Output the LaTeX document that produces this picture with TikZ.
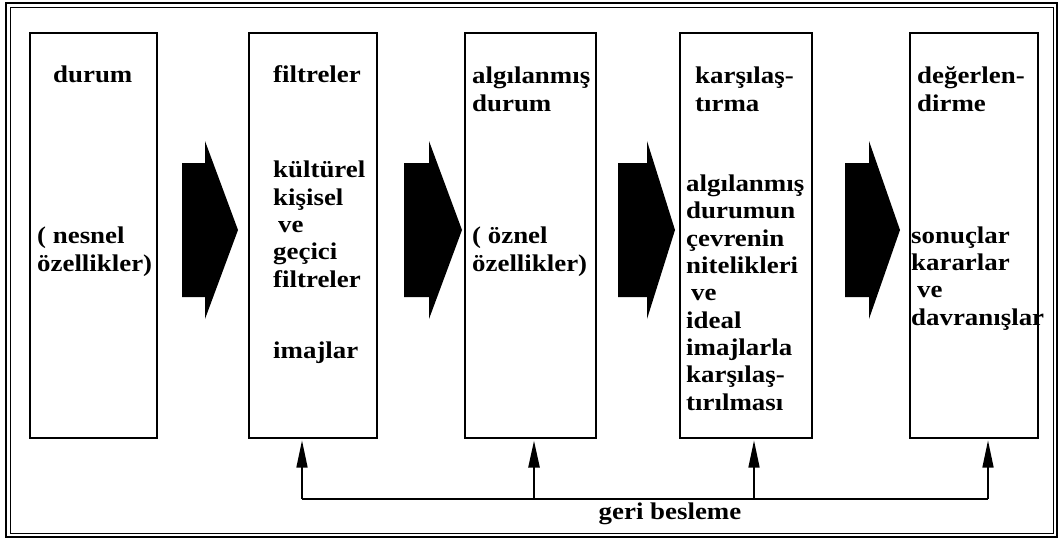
\documentclass[tikz,border=0pt]{standalone}
\usepackage{fontspec}
\newfontfamily\diafont{Liberation Serif}[FakeStretch=1.12]
\usetikzlibrary{arrows.meta}

\tikzset{
  stage/.style={draw, line width=1.5pt, inner sep=0pt, minimum height=405pt, anchor=north west},
  txt/.style={anchor=base west, inner sep=0pt, align=left, font=\diafont\bfseries\fontsize{24}{27.3}\selectfont},
  fb/.style={line width=1.4pt, -{Triangle[length=27pt,width=11pt]}, shorten >=2pt}
}

\begin{document}
\begin{tikzpicture}[x=1pt, y=-1pt]
    \useasboundingbox (0,0) rectangle (1062,541);

    % cerceve
    \draw[line width=1.6pt] (6,3) rectangle (1057,537);
    \draw[line width=0.8pt] (10,7) rectangle (1053,533);

    % kutular
    \node[stage, minimum width=127pt] (durum) at (29,32) {};
    \node[stage, minimum width=128pt] (filtre) at (248,32) {};
    \node[stage, minimum width=131pt] (algi) at (464,32) {};
    \node[stage, minimum width=132pt] (karsi) at (679,32) {};
    \node[stage, minimum width=128pt] (deger) at (909,32) {};

    % basliklar (base = son satir)
    \node[txt] (t1) at (53,82) {durum};
    \node[txt] (t2) at (273,82) {filtreler};
    \node[txt] (t3) at (472,111) {algılanmış\\durum};
    \node[txt] (t4) at (695,111) {karşılaş-\\tırma};
    \node[txt] (t5) at (917,111) {değerlen-\\dirme};

    % icerik
    \node[txt] (b1) at (37,271) {( nesnel\\özellikler)};
    \node[txt] (b2) at (273,287) {kültürel\\kişisel\\\hspace{5pt}ve\\geçici\\filtreler};
    \node[txt] (b2b) at (273,358) {imajlar};
    \node[txt] (b3) at (472,271) {( öznel\\özellikler)};
    \node[txt] (b4) at (686,410) {algılanmış\\durumun\\çevrenin\\nitelikleri\\\hspace{5pt}ve\\ideal\\imajlarla\\karşılaş-\\tırılması};
    \node[txt] (b5) at (911,325) {sonuçlar\\kararlar\\\hspace{6pt}ve\\davranışlar};

    % blok oklar
    \foreach \l/\h/\t in {182/205/238, 404/429/462, 618/647/675, 845/869/900}
        \fill (\l,163) -- (\h,163) -- (\h,141) -- (\t,230) -- (\h,319) -- (\h,297) -- (\l,297) -- cycle;

    % geri besleme
    \coordinate (fb1) at (302,499);
    \coordinate (fb2) at (534,499);
    \coordinate (fb3) at (754,499);
    \coordinate (fb4) at (988,499);
    \draw[line width=1.4pt] (fb1) -- (fb4);
    \draw[fb] (fb1) -- (fb1 |- filtre.south);
    \draw[fb, line width=2.4pt] (fb2) -- (fb2 |- algi.south);
    \draw[fb] (fb3) -- (fb3 |- karsi.south);
    \draw[fb] (fb4) -- (fb4 |- deger.south);
    \node[txt, anchor=base] (geri) at (670,519) {geri besleme};

\end{tikzpicture}
\end{document}
